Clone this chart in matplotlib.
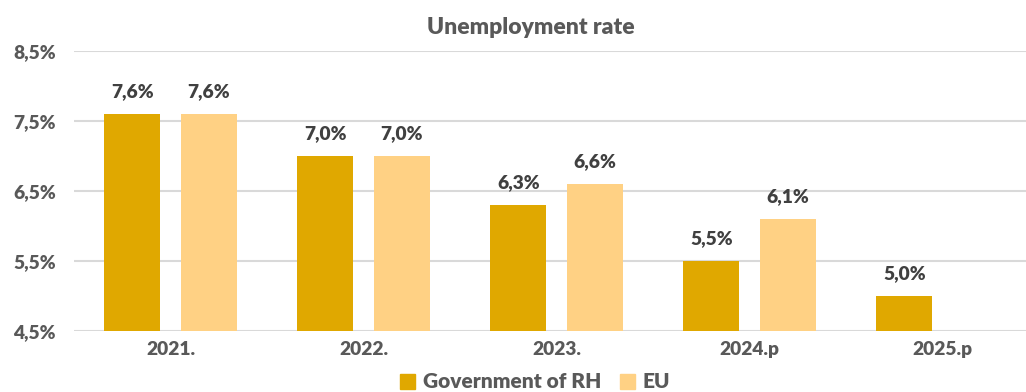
import matplotlib
matplotlib.use("Agg")
import matplotlib.pyplot as plt
from matplotlib.patches import Patch
import numpy as np

categories = ["2021.", "2022.", "2023.", "2024.p", "2025.p"]
rh_values = [7.6, 7.0, 6.3, 5.5, 5.0]
eu_values = [7.6, 7.0, 6.6, 6.1, None]
y_ticks = [4.5, 5.5, 6.5, 7.5, 8.5]

C_RH = "#E0A800"
C_EU = "#FFD184"
TXT = "#595959"
LBL = "#404040"
GRID = "#D9D9D9"
FS = 13.8
WT = 800

plt.rcParams['font.family'] = 'Lato'
plt.rcParams['font.weight'] = WT

fig = plt.figure(figsize=(10.26, 3.92), dpi=100)
ax = fig.add_axes([74/1026, 1 - 331/392, 1 - 74/1026, (331 - 51)/392])

x = np.arange(len(categories))
w = 0.29
off = 0.197

def fmt(v):
    return f"{v:.1f}%".replace(".", ",")

for i, (r, e) in enumerate(zip(rh_values, eu_values)):
    ax.bar(x[i] - off, r - 4.5, w, bottom=4.5, color=C_RH, zorder=3)
    ax.text(x[i] - off, r + 0.2, fmt(r), ha="center", va="bottom",
            fontsize=FS, family="Lato", fontweight=WT, color=LBL)
    if e is not None:
        ax.bar(x[i] + off, e - 4.5, w, bottom=4.5, color=C_EU, zorder=3)
        ax.text(x[i] + off, e + 0.2, fmt(e), ha="center", va="bottom",
                fontsize=FS, family="Lato", fontweight=WT, color=LBL)

ax.set_ylim(4.5, 8.5)
ax.set_xlim(-0.5, (1026 - 74) / 193 - 0.5)
ax.set_yticks(y_ticks)
ax.set_yticklabels([fmt(v) for v in y_ticks], fontsize=FS, family="Lato", fontweight=WT, color=TXT)
ax.set_xticks(x)
ax.set_xticklabels(categories, fontsize=FS, family="Lato", fontweight=WT, color=TXT)
ax.tick_params(axis="both", length=0)
ax.tick_params(axis="y", pad=13)
ax.tick_params(axis="x", pad=7)
for s in ax.spines.values():
    s.set_visible(False)
ax.yaxis.grid(True, color=GRID, linewidth=1.5, zorder=0)
ax.set_axisbelow(True)

fig.text(531/1026, 1 - 28/392, "Unemployment rate", ha="center", va="center",
         fontsize=16.5, family="Lato", fontweight=WT, color=TXT)

handles = [Patch(color=C_RH, label="Government of RH"), Patch(color=C_EU, label="EU")]
fig.legend(handles=handles, loc="center", bbox_to_anchor=(535/1026, 1 - 382/392), ncol=2,
           frameon=False, handlelength=0.75, handleheight=0.75,
           handletextpad=0.35, columnspacing=0.9, borderpad=0,
           labelcolor=TXT, prop={'family': 'Lato', 'weight': WT, 'size': 15})

fig.savefig("out.png", dpi=100)
